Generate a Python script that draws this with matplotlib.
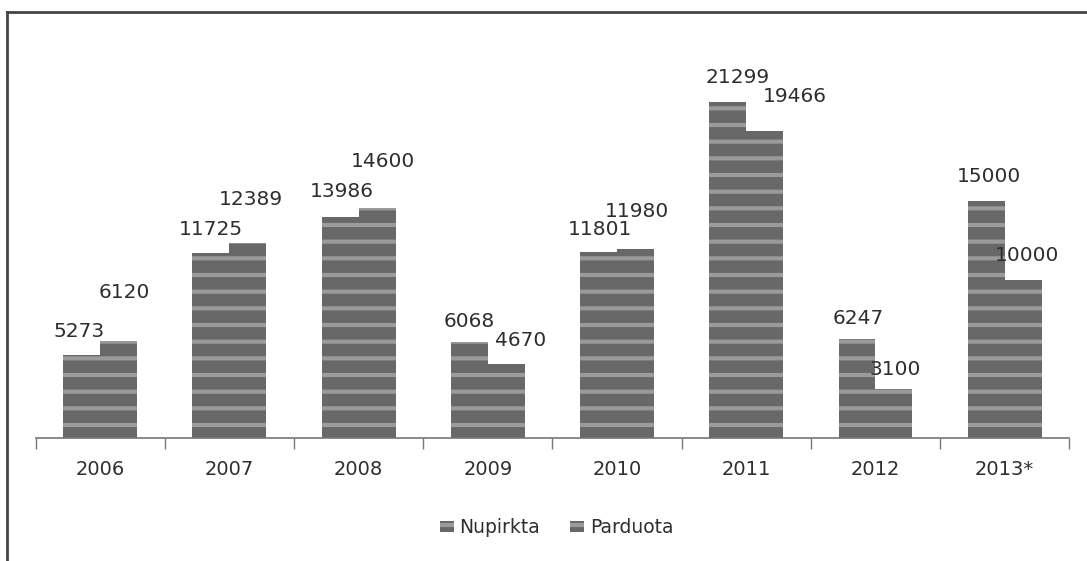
import numpy as np
import matplotlib.pyplot as plt
from matplotlib.lines import Line2D

years = ['2006', '2007', '2008', '2009', '2010', '2011', '2012', '2013*']
nupirkta = [5273, 11725, 13986, 6068, 11801, 21299, 6247, 15000]
parduota = [6120, 12389, 14600, 4670, 11980, 19466, 3100, 10000]
series_names = ['Nupirkta', 'Parduota']

# label offsets from the top-centre of each bar, in points (irregular in the scan)
off_n = [(-2, 13), (0, 13), (1, 15), (0, 11), (1, 12), (7, 14), (1, 11), (2, 14)]
off_p = [(4, 31), (2, 27), (4, 29), (10, 13), (1, 23), (22, 21), (1, 10), (3, 14)]

plt.rcParams['hatch.linewidth'] = 3.0
fig = plt.figure(figsize=(10.87, 5.61), dpi=100)
ax = fig.add_axes([0.0327, 0.2193, 0.951, 0.703])

x = np.arange(len(years))
w = 0.286
face = '#686868'
hatch_col = '#9a9a9a'
b1 = ax.bar(x - w / 2, nupirkta, w, color=face, edgecolor=hatch_col, hatch='-', linewidth=0, label=series_names[0])
b2 = ax.bar(x + w / 2, parduota, w, color=face, edgecolor=hatch_col, hatch='-', linewidth=0, label=series_names[1])

for xs, vals, offs in [(x - w / 2, nupirkta, off_n), (x + w / 2, parduota, off_p)]:
    for xi, v, (ox, oy) in zip(xs, vals, offs):
        ax.annotate(str(v), (xi, v), xytext=(ox, oy), textcoords='offset points',
                    ha='center', va='baseline', fontsize=14.5, color='#2e2e2e')

ax.set_xlim(-0.5, len(years) - 0.5)
ax.set_ylim(0, 25000)
ax.set_xticks(x, years, fontsize=14, color='#2e2e2e')
ax.set_xticks(np.arange(len(years) + 1) - 0.5, minor=True)
ax.tick_params(axis='x', which='major', length=0, pad=16)
ax.tick_params(axis='x', which='minor', length=8, color='#777777', width=1)
ax.set_yticks([])
for s in ['top', 'right', 'left']:
    ax.spines[s].set_visible(False)
ax.spines['bottom'].set_color('#777777')
ax.spines['bottom'].set_linewidth(1.2)

leg = fig.legend(handles=[b1, b2], loc='center', bbox_to_anchor=(0.512, 0.059), ncol=2,
                 frameon=False, fontsize=13.5, handlelength=0.75, handleheight=0.55,
                 handletextpad=0.3, columnspacing=1.6)
for t in leg.get_texts():
    t.set_color('#2e2e2e')

# scanned frame (top and left edges)
fig.add_artist(Line2D([7 / 1087, 1], [1 - 12 / 561, 1 - 12 / 561], transform=fig.transFigure, color='#444444', lw=2))
fig.add_artist(Line2D([7 / 1087, 7 / 1087], [0, 1 - 12 / 561], transform=fig.transFigure, color='#444444', lw=2))

fig.savefig('out.png', dpi=100)
